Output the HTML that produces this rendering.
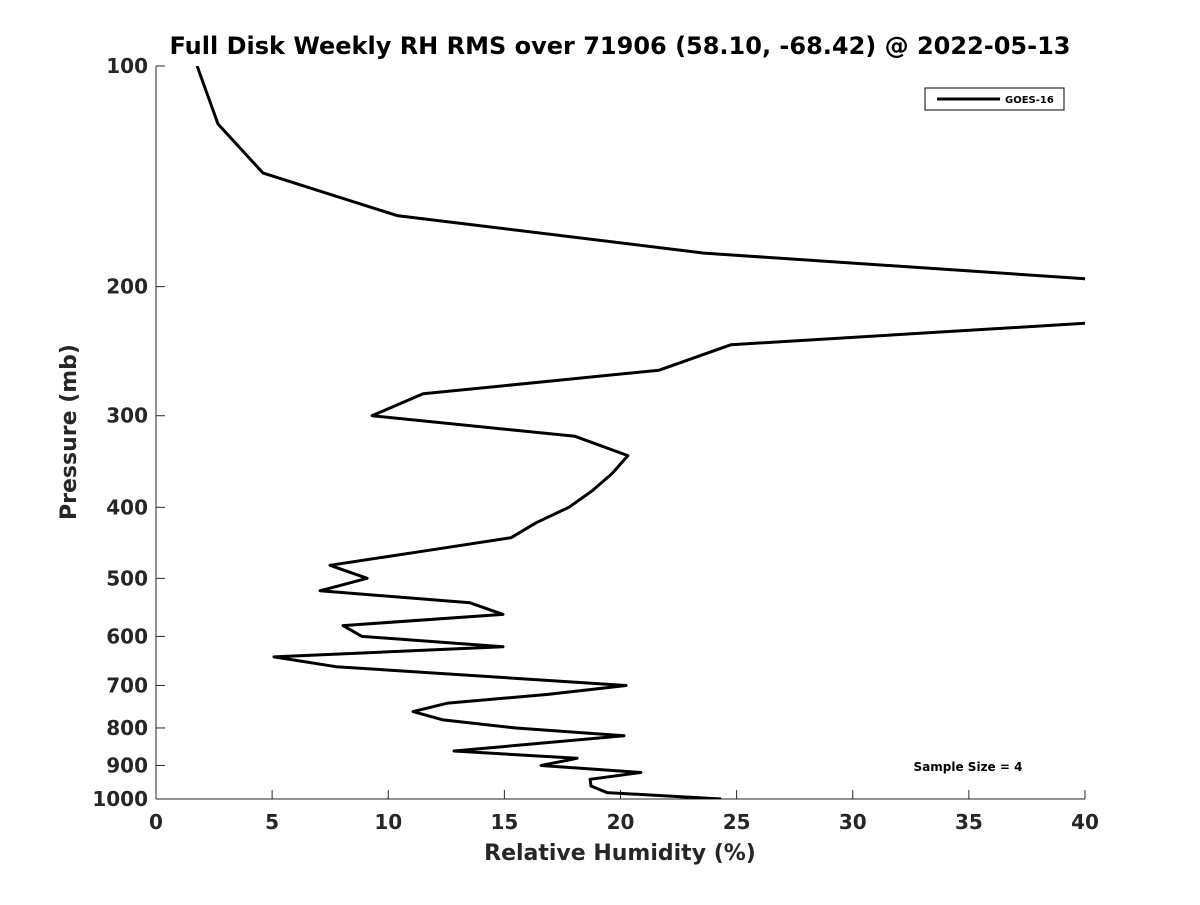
<!DOCTYPE html>
<html><head><meta charset="utf-8"><style>
body{margin:0;background:#fff;}
svg text{font-family:"DejaVu Sans","Liberation Sans",sans-serif;font-weight:bold;fill:#262626;}
</style></head><body>
<svg id="chart" width="1200" height="900" xmlns="http://www.w3.org/2000/svg">
<rect width="1200" height="900" fill="#fff"/>
<text x="620" y="54" font-size="24" text-anchor="middle" style="fill:#000">Full Disk Weekly RH RMS over 71906 (58.10, -68.42) @ 2022-05-13</text>
<defs><clipPath id="plotclip"><rect x="156" y="66" width="929" height="733"/></clipPath></defs>
<g id="axes"></g>
<path id="series" clip-path="url(#plotclip)" fill="none" stroke="#000" stroke-width="3" stroke-linejoin="round"/>
<text x="620" y="860" font-size="22" text-anchor="middle">Relative Humidity (%)</text>
<text transform="translate(76,432) rotate(-90)" font-size="22" text-anchor="middle">Pressure (mb)</text>
<g>
<rect x="925" y="88" width="139" height="22" fill="#fff" stroke="#000" stroke-width="1"/>
<line x1="937" y1="99" x2="1000" y2="99" stroke="#000" stroke-width="3"/>
<text x="1005" y="103" font-size="10" style="fill:#000">GOES-16</text>
</g>
<text x="968" y="771" font-size="12" text-anchor="middle" style="fill:#000">Sample Size = 4</text>
</svg>
<script>
const rhValues=[1.77,2.67,4.61,10.38,23.6,55,24.76,21.66,11.5,9.3,18.04,20.32,19.63,18.77,17.78,16.36,15.29,11.32,7.49,9.09,7.06,13.52,14.94,8.05,8.87,14.94,5.08,7.75,20.24,16.88,12.57,11.07,12.36,15.5,20.15,12.83,18.13,16.58,20.88,18.69,18.73,19.42,24.33];
const pressures=[100,120,140,160,180,210,240,260,280,300,320,340,360,380,400,420,440,460,480,500,520,540,560,580,600,620,640,660,700,720,740,760,780,800,820,860,880,900,920,940,960,980,1000];
const xTicks=[0,5,10,15,20,25,30,35,40];
const yTicks=[100,200,300,400,500,600,700,800,900,1000];
const X0=156,X1=1085,Y0=66,Y1=799;
const xs=v=>X0+(v-0)/(40-0)*(X1-X0);
const ys=p=>Y0+(Math.log10(p)-2)*(Y1-Y0);
const NS="http://www.w3.org/2000/svg";
const ax=document.getElementById('axes');
function mk(t,a){const e=document.createElementNS(NS,t);for(const k in a)e.setAttribute(k,a[k]);ax.appendChild(e);return e;}
let l=mk('line',{x1:X0,y1:Y0,x2:X0,y2:Y1,stroke:'#262626','stroke-width':1});


l=mk('line',{x1:X0,y1:Y1,x2:X1,y2:Y1,stroke:'#262626','stroke-width':1});


xTicks.forEach(v=>{
 const t=mk('line',{x1:xs(v),y1:Y1,x2:xs(v),y2:Y1-9,stroke:'#262626'});
 
 
 const tx=mk('text',{x:xs(v),y:Y1+30,'font-size':20,'text-anchor':'middle'});
 tx.textContent=v;
 
 
});
yTicks.forEach(p=>{
 const t=mk('line',{x1:X0,y1:ys(p),x2:X0+9,y2:ys(p),stroke:'#262626'});
 
 
 const tx=mk('text',{x:X0-8,y:ys(p)+7,'font-size':20,'text-anchor':'end'});
 tx.textContent=p;
 
 
});
document.getElementById('series').setAttribute('d',rhValues.map((v,i)=>(i?'L':'M')+xs(v).toFixed(1)+','+ys(pressures[i]).toFixed(1)).join(' '));
</script>
</body></html>
